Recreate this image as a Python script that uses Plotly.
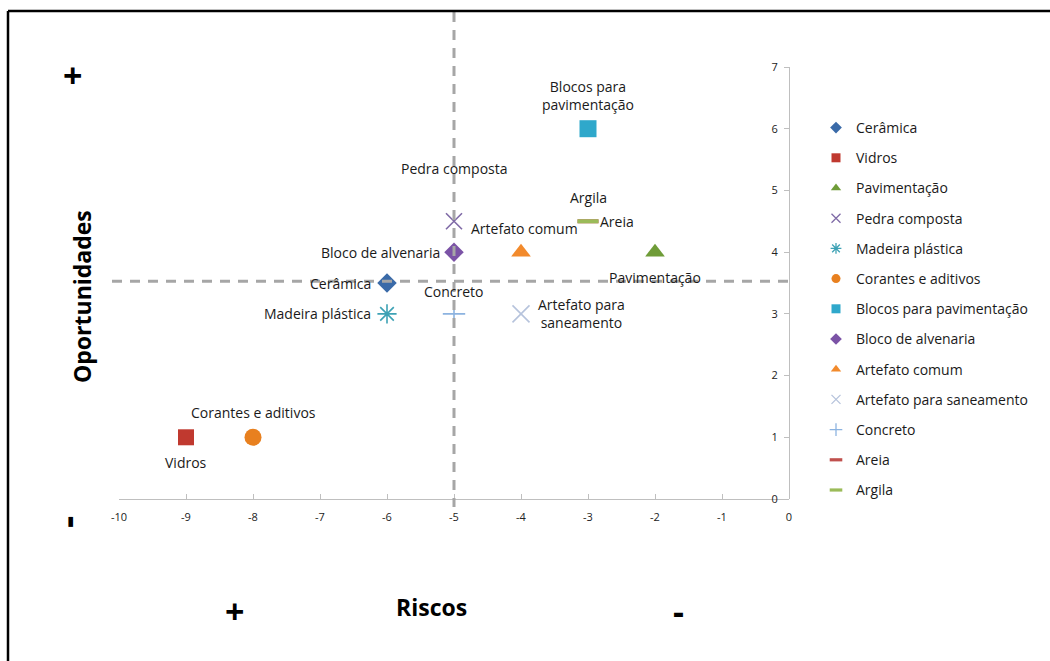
import plotly.graph_objects as go

# Materials positioned by risk (x) and opportunity (y)
materials = [
    "Cerâmica", "Vidros", "Pavimentação", "Pedra composta", "Madeira plástica",
    "Corantes e aditivos", "Blocos para pavimentação", "Bloco de alvenaria",
    "Artefato comum", "Artefato para saneamento", "Concreto", "Areia", "Argila",
]
riscos = [-6, -9, -2, -5, -6, -8, -3, -5, -4, -4, -5, -3, -3]
oportunidades = [3.5, 1, 4, 4.5, 3, 1, 6, 4, 4, 3, 3, 4.5, 4.5]

# Quadrant dividers
risco_corte = -5
oportunidade_corte = 3.53

x_ticks = [-10, -9, -8, -7, -6, -5, -4, -3, -2, -1, 0]
y_ticks = [0, 1, 2, 3, 4, 5, 6, 7]

# Marker style per material: symbol, colour, size, line width
marker_style = {
    "Cerâmica": ("diamond", "#3a6aa8", 15, 0),
    "Vidros": ("square", "#c0392f", 16, 0),
    "Pavimentação": ("triangle-up", "#6f9c38", 17, 0),
    "Pedra composta": ("x-thin", "#7f6aa6", 16, 1.6),
    "Madeira plástica": ("asterisk", "#3ea2b5", 16, 1.6),
    "Corantes e aditivos": ("circle", "#e8801f", 17, 0),
    "Blocos para pavimentação": ("square", "#2fa8cb", 17, 0),
    "Bloco de alvenaria": ("diamond", "#7b53a6", 15, 0),
    "Artefato comum": ("triangle-up", "#f28a2c", 17, 0),
    "Artefato para saneamento": ("x-thin", "#b6c3dc", 17, 1.6),
    "Concreto": ("cross-thin", "#8cb3e0", 16, 1.6),
    "Areia": ("line-ew", "#c0504d", 15, 4),
    "Argila": ("line-ew", "#9bbb59", 15, 4),
}

# Point label text and placement: text, xanchor, yanchor, xshift, yshift
label_style = {
    "Cerâmica": ("Cerâmica", "right", "middle", -14, 0),
    "Vidros": ("Vidros", "center", "top", 0, -14),
    "Pavimentação": ("Pavimentação", "center", "top", 0, -14),
    "Pedra composta": ("Pedra composta", "center", "bottom", 0, 41),
    "Madeira plástica": ("Madeira plástica", "right", "middle", -14, 0),
    "Corantes e aditivos": ("Corantes e aditivos", "center", "bottom", 0, 13),
    "Blocos para pavimentação": ("Blocos para<br>pavimentação", "center", "bottom", 0, 13),
    "Bloco de alvenaria": ("Bloco de alvenaria", "right", "middle", -12, 0),
    "Artefato comum": ("Artefato comum", "center", "bottom", 3, 12),
    "Artefato para saneamento": ("Artefato para<br>saneamento", "left", "middle", 15, 0),
    "Concreto": ("Concreto", "center", "bottom", 0, 11),
    "Areia": ("Areia", "left", "middle", 10, 0),
    "Argila": ("Argila", "center", "bottom", 0, 12),
}

FONT = "Open Sans"
W, H = 1050, 661
L, R, T, B = 119, 261, 67, 162
PW, PH = W - L - R, H - T - B


def px_x(px):
    return (px - L) / PW


def px_y(py):
    return (H - B - py) / PH


fig = go.Figure()

for name, x, y in zip(materials, riscos, oportunidades):
    sym, col, size, lw = marker_style[name]
    line = dict(width=lw, color=col) if lw else dict(width=0)
    fig.add_trace(go.Scatter(
        x=[x], y=[y], mode="markers", name=name, showlegend=False,
        marker=dict(symbol=sym, color=col, size=size, line=line),
    ))

# Legend entries with smaller symbols
for name in materials:
    sym, col, size, lw = marker_style[name]
    line = dict(width=lw * 0.8, color=col) if lw else dict(width=0)
    fig.add_trace(go.Scatter(
        x=[None], y=[None], mode="markers", name=name, legendgroup=name,
        marker=dict(symbol=sym, color=col, size=9, line=line),
    ))

annotations = []
for name, x, y in zip(materials, riscos, oportunidades):
    text, xa, ya, xs, ys = label_style[name]
    annotations.append(dict(
        x=x, y=y, xref="x", yref="y", text=text, showarrow=False,
        xanchor=xa, yanchor=ya, xshift=xs, yshift=ys, align="center",
        font=dict(family=FONT, size=14, color="#1a1a1a"),
    ))

big = dict(family=FONT, color="#000000")
corner_text = [
    # text, x px, y px, size, angle
    ("<b>+</b>", 72, 75, 34, 0),
    ("<b>Oportunidades</b>", 82, 297, 23, -90),
    ("<b>-</b>", 66, 522, 38, -90),
    ("<b>+</b>", 234, 611, 34, 0),
    ("<b>Riscos</b>", 431, 607, 23, 0),
    ("<b>-</b>", 678, 611, 34, 0),
]
for text, xp, yp, size, ang in corner_text:
    annotations.append(dict(
        x=px_x(xp), y=px_y(yp), xref="paper", yref="paper", text=text,
        showarrow=False, xanchor="center", yanchor="middle", textangle=ang,
        font=dict(size=size, **big),
    ))

dash = dict(color="#a6a6a6", width=3, dash="10px,8px")
shapes = [
    dict(type="line", xref="x", yref="paper", x0=risco_corte, x1=risco_corte,
         y0=px_y(12), y1=px_y(507), line=dash),
    dict(type="line", xref="paper", yref="y", x0=px_x(112), x1=px_x(790),
         y0=oportunidade_corte, y1=oportunidade_corte, line=dash),
    # frame
    dict(type="line", xref="paper", yref="paper", x0=px_x(8), x1=px_x(1060),
         y0=px_y(11), y1=px_y(11), line=dict(color="#000000", width=2.5)),
    dict(type="line", xref="paper", yref="paper", x0=px_x(8), x1=px_x(8),
         y0=px_y(11), y1=px_y(670), line=dict(color="#000000", width=2.5)),
]

fig.update_layout(
    width=W, height=H,
    margin=dict(l=L, r=R, t=T, b=B),
    paper_bgcolor="white", plot_bgcolor="white",
    font=dict(family=FONT, color="#1a1a1a"),
    annotations=annotations, shapes=shapes,
    legend=dict(
        x=px_x(816), y=px_y(112), xanchor="left", yanchor="top",
        font=dict(family=FONT, size=14, color="#1a1a1a"),
        tracegroupgap=9, traceorder="grouped", itemwidth=30,
        bgcolor="rgba(0,0,0,0)",
    ),
    xaxis=dict(
        range=[-10, 0], tickvals=x_ticks, ticktext=[str(v) for v in x_ticks],
        showgrid=False, zeroline=False, showline=True, linecolor="#bfbfbf", linewidth=1,
        ticks="inside", ticklen=5, tickcolor="#bfbfbf", ticklabelstandoff=8,
        tickfont=dict(family=FONT, size=11, color="#222222"), fixedrange=True,
    ),
    yaxis=dict(
        range=[0, 7], tickvals=y_ticks, side="left", anchor="free", position=1,
        showgrid=False, zeroline=False, showline=True, linecolor="#bfbfbf", linewidth=1,
        ticks="outside", ticklen=5, tickcolor="#bfbfbf", ticklabelstandoff=4,
        tickfont=dict(family=FONT, size=11, color="#222222"), fixedrange=True,
    ),
)

fig.write_html("out.html")
